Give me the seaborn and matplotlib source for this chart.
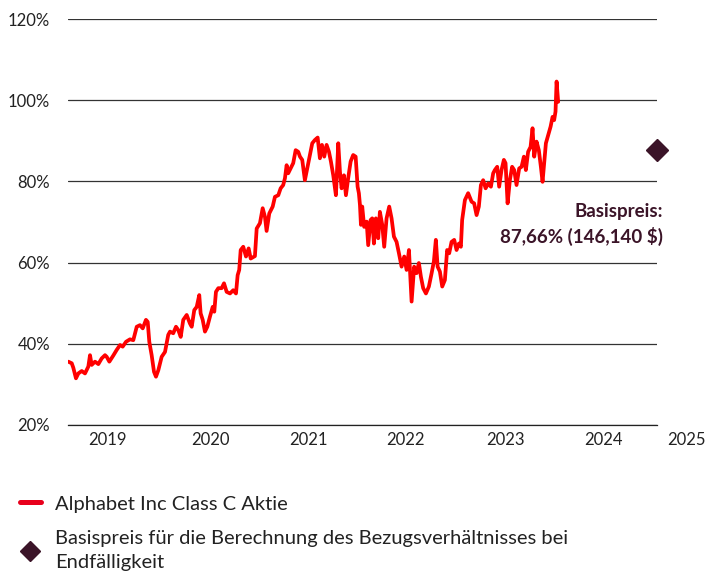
import numpy as np
import pandas as pd
import matplotlib
matplotlib.use("Agg")
from matplotlib import pyplot as plt
from matplotlib.lines import Line2D
import seaborn as sns

# time axis in fractional years, stock level in % of reference price
years = [
    2019.353, 2019.388, 2019.404, 2019.431, 2019.455, 2019.490, 2019.523, 2019.557, 2019.574, 2019.591,
    2019.625, 2019.659, 2019.693, 2019.727, 2019.744, 2019.771, 2019.811, 2019.846, 2019.880, 2019.907,
    2019.941, 2019.981, 2020.015, 2020.050, 2020.083, 2020.111, 2020.144, 2020.162, 2020.178, 2020.202,
    2020.226, 2020.246, 2020.270, 2020.304, 2020.338, 2020.371, 2020.389, 2020.422, 2020.450, 2020.473,
    2020.498, 2020.524, 2020.559, 2020.592, 2020.610, 2020.636, 2020.661, 2020.687, 2020.701, 2020.722,
    2020.745, 2020.769, 2020.796, 2020.824, 2020.840, 2020.857, 2020.881, 2020.915, 2020.939, 2020.966,
    2021.000, 2021.033, 2021.061, 2021.078, 2021.094, 2021.109, 2021.135, 2021.163, 2021.190, 2021.211,
    2021.254, 2021.272, 2021.305, 2021.333, 2021.356, 2021.373, 2021.400, 2021.435, 2021.458, 2021.492,
    2021.516, 2021.542, 2021.560, 2021.577, 2021.593, 2021.618, 2021.644, 2021.669, 2021.695, 2021.713,
    2021.736, 2021.763, 2021.787, 2021.814, 2021.838, 2021.865, 2021.893, 2021.916, 2021.937, 2021.960,
    2021.984, 2022.008, 2022.028, 2022.052, 2022.079, 2022.103, 2022.120, 2022.137, 2022.161, 2022.181,
    2022.204, 2022.229, 2022.255, 2022.280, 2022.300, 2022.313, 2022.324, 2022.334, 2022.347, 2022.367,
    2022.392, 2022.408, 2022.432, 2022.449, 2022.466, 2022.486, 2022.510, 2022.527, 2022.551, 2022.571,
    2022.595, 2022.622, 2022.646, 2022.670, 2022.697, 2022.721, 2022.748, 2022.775, 2022.799, 2022.823,
    2022.850, 2022.876, 2022.901, 2022.924, 2022.945, 2022.968, 2022.996, 2023.026, 2023.054, 2023.077,
    2023.097, 2023.115, 2023.138, 2023.162, 2023.189, 2023.212, 2023.233, 2023.257, 2023.284, 2023.308,
    2023.332, 2023.352, 2023.365, 2023.393, 2023.426, 2023.461, 2023.487, 2023.512, 2023.535, 2023.556,
    2023.579, 2023.604, 2023.630, 2023.658, 2023.681, 2023.698, 2023.722, 2023.742, 2023.766, 2023.790,
    2023.807, 2023.828, 2023.851, 2023.874, 2023.895, 2023.919, 2023.946, 2023.970, 2023.994, 2024.014,
    2024.037, 2024.062, 2024.082, 2024.099, 2024.123, 2024.146, 2024.167, 2024.184, 2024.200, 2024.218,
    2024.241, 2024.266, 2024.286, 2024.302, 2024.316, 2024.327, 2024.343,
]
perf = [
    35.6, 35.2, 34.1, 31.5, 32.7, 33.3, 32.7, 34.4, 37.2, 34.8,
    35.6, 35.0, 36.4, 37.2, 36.8, 35.6, 37.1, 38.5, 39.7, 39.3,
    40.5, 41.1, 40.9, 44.2, 44.6, 43.8, 45.9, 45.4, 40.5, 37.2,
    33.1, 31.9, 33.5, 36.8, 38.0, 42.2, 43.0, 42.6, 44.2, 43.4,
    41.7, 45.9, 47.1, 45.0, 44.2, 48.3, 49.1, 52.0, 47.5, 45.9,
    43.0, 44.2, 46.7, 49.1, 47.9, 52.8, 53.7, 53.7, 54.9, 52.8,
    52.4, 53.2, 52.4, 56.9, 58.2, 63.1, 63.9, 61.5, 63.5, 61.0,
    61.6, 68.4, 69.7, 73.4, 71.3, 67.8, 72.1, 73.8, 76.2, 76.6,
    78.3, 79.1, 80.8, 84.0, 82.0, 83.2, 84.5, 87.7, 87.3, 86.1,
    85.3, 80.3, 83.2, 86.5, 89.4, 90.2, 90.8, 85.7, 89.0, 86.1,
    89.0, 87.3, 84.9, 81.5, 76.6, 89.4, 82.4, 78.3, 81.5, 76.6,
    80.8, 84.9, 86.5, 86.1, 78.7, 77.1, 74.2, 69.3, 73.8, 68.8,
    70.1, 64.3, 70.5, 70.9, 64.7, 70.9, 66.0, 72.5, 69.3, 63.9,
    70.9, 73.8, 70.9, 66.4, 65.1, 62.3, 59.0, 61.5, 58.2, 63.1,
    50.4, 59.0, 57.4, 59.9, 56.5, 53.7, 52.4, 54.1, 57.4, 60.3,
    65.6, 59.0, 57.8, 54.1, 55.7, 63.1, 62.3, 65.1, 65.6, 63.1,
    64.7, 63.9, 70.5, 75.4, 77.1, 75.0, 74.6, 71.7, 73.8, 79.1,
    80.3, 78.3, 79.5, 78.7, 82.0, 82.8, 83.6, 78.7, 82.8, 85.3,
    84.5, 74.6, 80.3, 83.6, 82.8, 79.1, 83.2, 83.6, 86.1, 82.8,
    87.3, 88.5, 93.1, 86.1, 89.8, 87.7, 83.6, 79.9, 84.5, 89.4,
    91.4, 93.5, 95.9, 95.1, 97.2, 104.6, 99.6,
]

strike_year = 2025.35
strike_pct = 87.66
strike_text = "Basispreis:\n87,66% (146,140 $)"

axis_start = 2019.35
axis_end = 2025.35
year_ticks = [2019.35, 2020.35, 2021.35, 2022.35, 2023.35, 2024.35, 2025.35]
year_labels = ["2019", "2020", "2021", "2022", "2023", "2024", "2025"]
year_label_pos = [2019.75, 2020.80, 2021.80, 2022.79, 2023.81, 2024.80, 2025.65]
pct_ticks = [20, 40, 60, 80, 100, 120]

legend_labels = ["Alphabet Inc Class C Aktie",
                 "Basispreis für die Berechnung des Bezugsverhältnisses bei\nEndfälligkeit"]

df = pd.DataFrame({"year": years, "perf": perf})

sns.set_theme(style="white")
plt.rcParams["font.family"] = ["Lato", "DejaVu Sans"]

red = "#ff0000"
plum = "#3b1428"
text_col = "#222222"

fig = plt.figure(figsize=(7.07, 5.73), dpi=100)
ax = fig.add_axes([0.0962, 0.2583, 0.8331, 0.7085])

sns.lineplot(data=df, x="year", y="perf", color=red, linewidth=2.7, sort=False, ax=ax, legend=False)
ax.plot([strike_year], [strike_pct], marker="D", markersize=11, color=plum, linestyle="none",
        clip_on=False, zorder=5)
ax.annotate(strike_text, xy=(axis_end, 69.3), xytext=(4, 0), textcoords="offset points",
            ha="right", va="center", multialignment="right", linespacing=1.45,
            fontsize=13.5, fontweight="bold", color=plum)

ax.set_xlim(axis_start, axis_end)
ax.set_ylim(20, 120)
ax.set_yticks(pct_ticks)
ax.set_yticklabels(["{}%".format(v) for v in pct_ticks], fontsize=12, color=text_col)
ax.yaxis.grid(True, color="#333333", linewidth=0.9)
ax.set_axisbelow(True)

ax.set_xticks(year_ticks)
ax.set_xticklabels([])
ax.set_xticks(year_label_pos[:-1], minor=True)
ax.set_xticklabels(year_labels[:-1], minor=True, fontsize=12, color=text_col)
ax.tick_params(axis="x", which="major", length=5, width=0.9, color="#222222", direction="out")
ax.tick_params(axis="x", which="minor", length=0, pad=5)
ax.tick_params(axis="y", length=0, pad=13)
ax.text(year_label_pos[-1], -0.018, year_labels[-1], transform=ax.get_xaxis_transform(),
        ha="center", va="top", fontsize=12, color=text_col, clip_on=False)

ax.set_xlabel("")
ax.set_ylabel("")
for side in ["top", "left", "right"]:
    ax.spines[side].set_visible(False)
ax.spines["bottom"].set_color("#222222")
ax.spines["bottom"].set_linewidth(0.9)

handles = [Line2D([0], [0], color="#e8001c", linewidth=3.6),
           Line2D([0], [0], marker="D", markersize=10, color=plum, linestyle="none")]
leg = fig.legend(handles, legend_labels, loc="upper left", bbox_to_anchor=(0.002, 0.167),
                 frameon=False, fontsize=14.5, handlelength=1.05, handletextpad=0.72,
                 labelspacing=0.88, labelcolor=text_col)
for t in leg.get_texts():
    t.set_linespacing(1.5)

plt.savefig("out.png", dpi=100)
